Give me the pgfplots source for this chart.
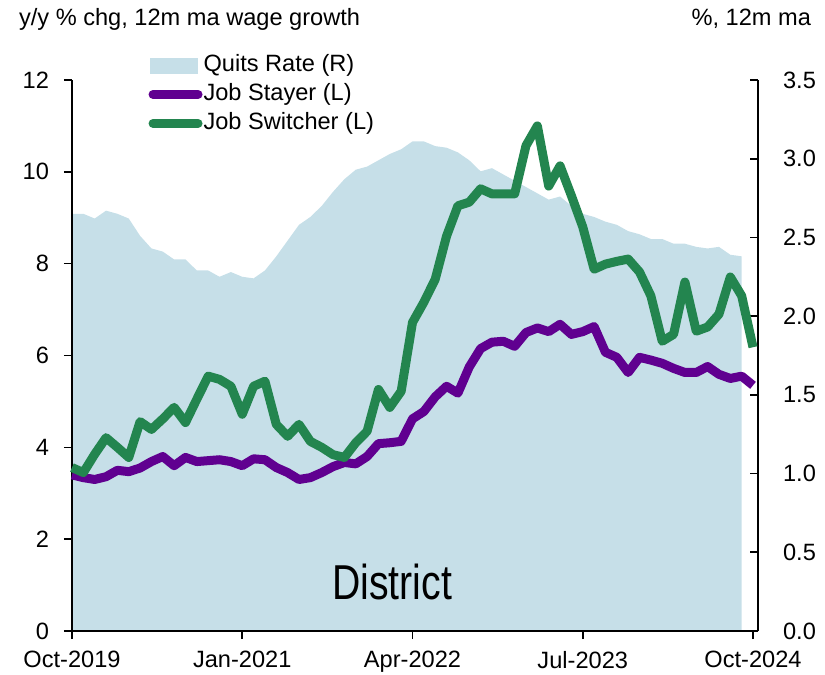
\documentclass[border=0pt]{standalone}
\usepackage{fontspec}
\setmainfont{Liberation Sans}
\newfontfamily\narrowfont[FakeStretch=0.8]{Liberation Sans}
\usepackage{pgfplots}
\pgfplotsset{compat=1.18}
\definecolor{quits}{HTML}{C6DFE8}
\definecolor{stayer}{HTML}{600090}
\definecolor{switcher}{HTML}{23854F}
\begin{document}
\begin{tikzpicture}
\path[use as bounding box] (-36pt,-22pt) rectangle (376.5pt,315.5pt);
\pgfplotsset{
  base/.style={scale only axis, width=343pt, height=275.5pt, xmin=0, xmax=60.44,
    /pgf/number format/assume math mode=true,
    tick label style={font=\fontsize{11.8}{14}\selectfont},
    major tick length=4pt, tick style={black, line width=0.8pt},
    axis line style={black, line width=0.8pt}}
}
% Right axis: quits rate area
\begin{axis}[base, ymin=0, ymax=3.5, axis y line*=right, axis x line=none,
  ytick={0,0.5,1,1.5,2,2.5,3,3.5}, tick align=inside,
  yticklabel style={xshift=9pt, /pgf/number format/.cd, fixed, fixed zerofill, precision=1},
  ]
\addplot[fill=quits, draw=none] coordinates {
(0,2.65)(1,2.65)(2,2.62)(3,2.67)(4,2.65)(5,2.62)(6,2.51)(7,2.43)(8,2.41)(9,2.36)
(10,2.36)(11,2.29)(12,2.29)(13,2.25)(14,2.28)(15,2.25)(16,2.24)(17,2.29)(18,2.38)(19,2.48)
(20,2.58)(21,2.63)(22,2.70)(23,2.79)(24,2.87)(25,2.93)(26,2.95)(27,2.99)(28,3.03)(29,3.06)
(30,3.11)(31,3.11)(32,3.08)(33,3.07)(34,3.04)(35,2.99)(36,2.92)(37,2.94)(38,2.90)(39,2.86)
(40,2.82)(41,2.78)(42,2.74)(43,2.76)(44,2.70)(45,2.65)(46,2.63)(47,2.60)(48,2.58)(49,2.54)
(50,2.52)(51,2.49)(52,2.49)(53,2.46)(54,2.46)(55,2.44)(56,2.43)(57,2.44)(58,2.39)(59,2.38)
} \closedcycle;
\end{axis}
% Left axis: wage growth lines
\begin{axis}[base, ymin=0, ymax=12, axis y line*=left, axis x line*=bottom,
  tick align=outside, ytick={0,2,4,6,8,10,12},
  yticklabel style={xshift=-4pt},
  xticklabel style={yshift=-2.5pt},
  xtick={0,15,30,45,60}, xticklabels={Oct-2019,Jan-2021,Apr-2022,Jul-2023,Oct-2024},
  clip=false,
  legend style={at={(0.111,1.048)}, anchor=north west, draw=none, fill=none,
    inner sep=0pt, row sep=3pt, column sep=0.5pt,
    font=\fontsize{11.8}{14}\selectfont,
    nodes={inner sep=0pt, text height=9pt, text depth=2.5pt}},
  legend cell align=left,
  ]
\addlegendimage{legend image code/.code={\fill[quits] (1pt,-3.75pt) rectangle (24.5pt,3.75pt);}}
\addlegendentry{Quits Rate (R)}
\addplot[stayer, line width=4.5pt, line join=round,
  legend image code/.code={\draw[line cap=round] (2.5pt,0pt) -- (25pt,0pt);}] coordinates {
(0,3.40)(1,3.34)(2,3.30)(3,3.36)(4,3.50)(5,3.47)(6,3.55)(7,3.69)(8,3.80)(9,3.60)
(10,3.78)(11,3.69)(12,3.71)(13,3.73)(14,3.69)(15,3.60)(16,3.75)(17,3.73)(18,3.56)(19,3.45)
(20,3.30)(21,3.34)(22,3.45)(23,3.58)(24,3.67)(25,3.64)(26,3.80)(27,4.08)(28,4.10)(29,4.13)
(30,4.62)(31,4.78)(32,5.10)(33,5.33)(34,5.18)(35,5.75)(36,6.15)(37,6.29)(38,6.31)(39,6.20)
(40,6.50)(41,6.60)(42,6.52)(43,6.68)(44,6.46)(45,6.52)(46,6.63)(47,6.07)(48,5.96)(49,5.63)
(50,5.96)(51,5.90)(52,5.83)(53,5.72)(54,5.63)(55,5.63)(56,5.76)(57,5.59)(58,5.50)(59,5.55)
(60,5.35)
};
\addlegendentry{Job Stayer (L)}
\addplot[switcher, line width=4.5pt, line join=round,
  legend image code/.code={\draw[line cap=round] (2.5pt,0pt) -- (25pt,0pt);}] coordinates {
(0,3.56)(1,3.45)(2,3.85)(3,4.21)(4,4.00)(5,3.78)(6,4.56)(7,4.39)(8,4.62)(9,4.87)
(10,4.54)(11,5.05)(12,5.55)(13,5.48)(14,5.33)(15,4.72)(16,5.33)(17,5.44)(18,4.50)(19,4.24)
(20,4.50)(21,4.13)(22,4.00)(23,3.84)(24,3.78)(25,4.10)(26,4.35)(27,5.26)(28,4.87)(29,5.22)
(30,6.72)(31,7.16)(32,7.66)(33,8.60)(34,9.26)(35,9.34)(36,9.63)(37,9.52)(38,9.52)(39,9.52)
(40,10.57)(41,11.00)(42,9.69)(43,10.13)(44,9.48)(45,8.80)(46,7.88)(47,7.99)(48,8.05)(49,8.10)
(50,7.82)(51,7.30)(52,6.31)(53,6.46)(54,7.60)(55,6.53)(56,6.62)(57,6.90)(58,7.71)(59,7.30)
(60,6.18)
};
\addlegendentry{Job Switcher (L)}
\node[font=\narrowfont\fontsize{24.5}{28}\selectfont] at (axis cs:28.2,1.07) {District};
\end{axis}
\node[anchor=base west, font=\fontsize{11.8}{14}\selectfont] at (-30pt,302.5pt) {y/y \% chg, 12m ma wage growth};
\node[anchor=base east, font=\fontsize{11.8}{14}\selectfont] at (373pt,302.5pt) {\%, 12m ma};
\end{tikzpicture}
\end{document}
